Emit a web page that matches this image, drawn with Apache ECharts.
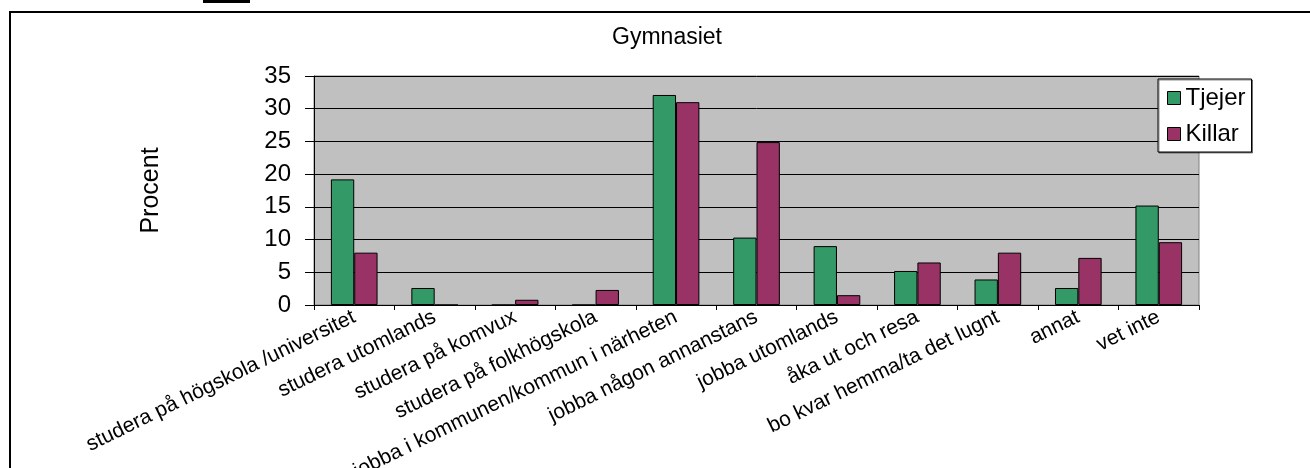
<!DOCTYPE html>
<html>
<head>
<meta charset="utf-8">
<script src="https://cdn.jsdelivr.net/npm/echarts@6/dist/echarts.min.js"></script>
<style>
html,body{margin:0;padding:0;background:#fff;}
#chart{width:1310px;height:468px;}
</style>
</head>
<body>
<div id="chart"></div>
<script>
const categories = ['studera på högskola /universitet','studera utomlands','studera på komvux','studera på folkhögskola','jobba i kommunen/kommun i närheten','jobba någon annanstans','jobba utomlands','åka ut och resa','bo kvar hemma/ta det lugnt','annat','vet inte'];
const tjejer = [19.2, 2.6, 0, 0, 32.1, 10.3, 9.0, 5.2, 3.9, 2.6, 15.2];
const killar = [8.0, 0, 0.8, 2.3, 31.0, 24.9, 1.5, 6.5, 8.0, 7.2, 9.6];
const seriesNames = ['Tjejer', 'Killar'];
const titleText = 'Gymnasiet';
const yName = 'Procent';

const FONT = "'Liberation Sans', Arial, sans-serif";
const chart = echarts.init(document.getElementById('chart'), null, {renderer: 'canvas'});
chart.setOption({
  animation: false,
  backgroundColor: '#ffffff',
  textStyle: {fontFamily: FONT, color: '#000'},
  grid: {left: 314, right: 111, top: 76, bottom: 163, show: true, backgroundColor: '#c0c0c0', borderColor: '#808080', borderWidth: 1, containLabel: false, outerBoundsMode: 'none'},
  graphic: [
    {type: 'rect', shape: {x: 10, y: 12, width: 1400, height: 600}, style: {fill: 'none', stroke: '#000', lineWidth: 2}, silent: true},
    {type: 'rect', shape: {x: 203, y: 0, width: 47, height: 3}, style: {fill: '#000'}, silent: true},
    {type: 'text', x: 667, y: 38, style: {text: titleText, font: '23px ' + FONT, fill: '#000', textAlign: 'center', textVerticalAlign: 'middle'}, silent: true}
  ],
  legend: {
    orient: 'vertical', left: 1158, top: 79,
    data: seriesNames,
    backgroundColor: '#ffffff', borderColor: '#000', borderWidth: 1,
    padding: [7, 6, 6, 9],
    itemWidth: 13, itemHeight: 13, itemGap: 12,
    icon: 'rect',
    itemStyle: {borderColor: '#000', borderWidth: 1},
    textStyle: {fontSize: 24, fontFamily: FONT, color: '#000', lineHeight: 23},
    shadowColor: 'rgba(0,0,0,0.45)', shadowOffsetX: 1, shadowOffsetY: 1, shadowBlur: 0
  },
  xAxis: {
    type: 'category', data: categories,
    axisLine: {show: true, lineStyle: {color: '#000', width: 1}},
    axisTick: {show: true, interval: 0, length: 5, lineStyle: {color: '#000'}},
    axisLabel: {interval: 0, rotate: 26, fontSize: 21, fontFamily: FONT, color: '#000', margin: 11},
    splitLine: {show: false}
  },
  yAxis: {
    type: 'value', min: 0, max: 35, interval: 5,
    name: yName, nameLocation: 'middle', nameRotate: 90, nameGap: 150,
    nameTextStyle: {fontSize: 25, fontFamily: FONT, color: '#000'},
    axisLine: {show: true, lineStyle: {color: '#000', width: 1}},
    axisTick: {show: true, inside: false, length: 9, lineStyle: {color: '#000'}},
    axisLabel: {fontSize: 24, fontFamily: FONT, color: '#000', margin: 23},
    splitLine: {show: true, lineStyle: {color: '#000', width: 1}}
  },
  series: [
    {name: seriesNames[0], type: 'bar', data: tjejer, barGap: '0%', barCategoryGap: '42%',
     itemStyle: {color: '#339966', borderColor: '#000', borderWidth: 1}},
    {name: seriesNames[1], type: 'bar', data: killar, barGap: '0%', barCategoryGap: '42%',
     itemStyle: {color: '#993366', borderColor: '#000', borderWidth: 1}}
  ]
});
</script>
</body>
</html>
